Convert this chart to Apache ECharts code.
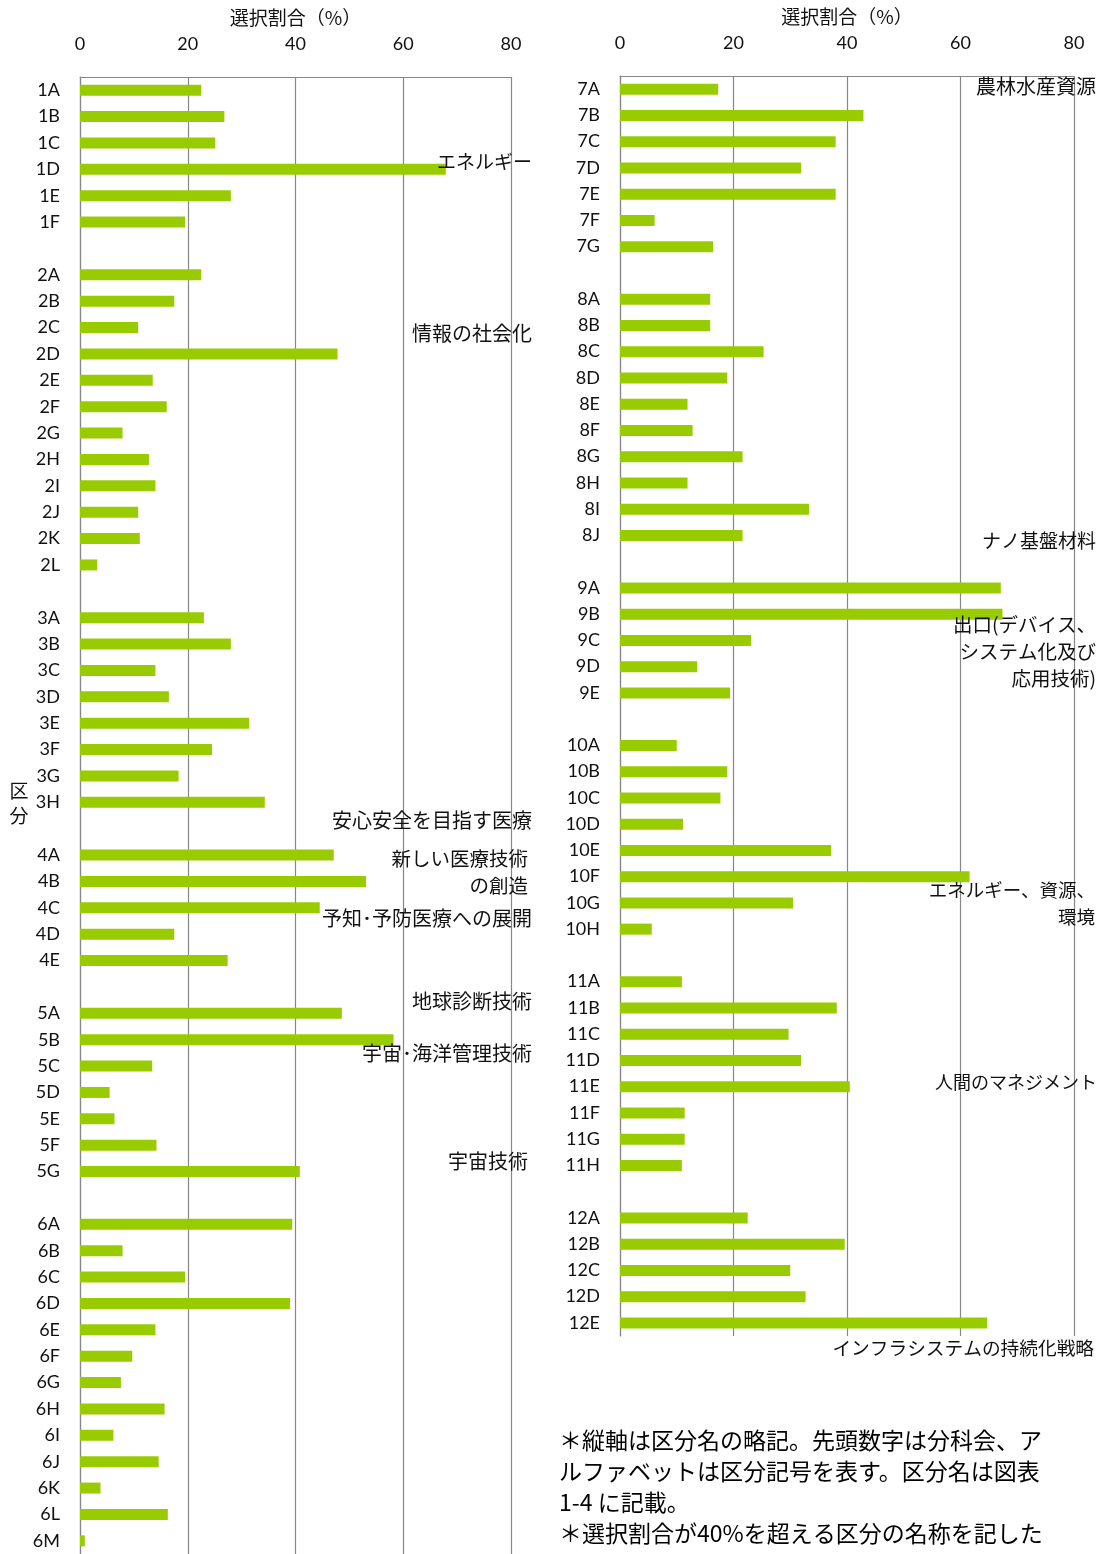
<!DOCTYPE html>
<html>
<head>
<meta charset="utf-8">
<script src="https://cdn.jsdelivr.net/npm/echarts@6/dist/echarts.min.js"></script>
<style>
  html, body { margin: 0; padding: 0; background: #fff; }
  #chart { width: 1105px; height: 1554px; }
</style>
</head>
<body>
<div id="chart"></div>
<script>
// 区分コードと選択割合（%）— 分科会ごと
const field1 = ['1A', '1B', '1C', '1D', '1E', '1F'];
const rate1 = [22.5, 26.8, 25.1, 67.9, 28.0, 19.5];
const field2 = ['2A', '2B', '2C', '2D', '2E', '2F', '2G', '2H', '2I', '2J', '2K', '2L'];
const rate2 = [22.5, 17.5, 10.8, 47.8, 13.5, 16.1, 7.9, 12.8, 14.0, 10.8, 11.1, 3.2];
const field3 = ['3A', '3B', '3C', '3D', '3E', '3F', '3G', '3H'];
const rate3 = [23.0, 28.0, 14.0, 16.5, 31.4, 24.5, 18.3, 34.3];
const field4 = ['4A', '4B', '4C', '4D', '4E'];
const rate4 = [47.1, 53.1, 44.5, 17.5, 27.4];
const field5 = ['5A', '5B', '5C', '5D', '5E', '5F', '5G'];
const rate5 = [48.6, 58.2, 13.4, 5.5, 6.4, 14.2, 40.8];
const field6 = ['6A', '6B', '6C', '6D', '6E', '6F', '6G', '6H', '6I', '6J', '6K', '6L', '6M'];
const rate6 = [39.4, 7.9, 19.5, 39.0, 14.0, 9.7, 7.6, 15.7, 6.2, 14.6, 3.8, 16.3, 0.9];
const field7 = ['7A', '7B', '7C', '7D', '7E', '7F', '7G'];
const rate7 = [17.3, 42.9, 38.0, 31.9, 38.0, 6.1, 16.4];
const field8 = ['8A', '8B', '8C', '8D', '8E', '8F', '8G', '8H', '8I', '8J'];
const rate8 = [15.9, 15.9, 25.3, 18.9, 11.9, 12.8, 21.6, 11.9, 33.3, 21.6];
const field9 = ['9A', '9B', '9C', '9D', '9E'];
const rate9 = [67.1, 67.4, 23.1, 13.6, 19.4];
const field10 = ['10A', '10B', '10C', '10D', '10E', '10F', '10G', '10H'];
const rate10 = [10.0, 18.9, 17.7, 11.1, 37.2, 61.6, 30.5, 5.6];
const field11 = ['11A', '11B', '11C', '11D', '11E', '11F', '11G', '11H'];
const rate11 = [10.9, 38.2, 29.7, 31.9, 40.5, 11.4, 11.4, 10.9];
const field12 = ['12A', '12B', '12C', '12D', '12E'];
const rate12 = [22.5, 39.6, 30.0, 32.7, 64.7];

// 値軸の目盛
const rateTicks = [0, 20, 40, 60, 80];

// 40%を超える区分の名称
const leftNotes = ['エネルギー', '情報の社会化', '安心安全を目指す医療', '新しい医療技術\nの創造',
  '予知･予防医療への展開', '地球診断技術', '宇宙･海洋管理技術', '宇宙技術'];
const rightNotes = ['農林水産資源', 'ナノ基盤材料', '出口(デバイス、\nシステム化及び\n応用技術)',
  'エネルギー、資源、\n環境', '人間のマネジメント', 'インフラシステムの持続化戦略'];

const footNote = '＊縦軸は区分名の略記。先頭数字は分科会、ア\nルファベットは区分記号を表す。区分名は図表\n1-4 に記載。\n＊選択割合が40%を超える区分の名称を記した';

// ---- layout: [右端x, 中心y, 文字サイズ] ----
const leftNoteLayout = [[532, 162, 19], [532, 333, 20], [532, 820, 20], [528, 872, 19.5], [532, 918, 20],
  [532, 1001, 20], [532, 1053, 20], [528, 1161, 20]];
const rightNoteLayout = [[1096, 86, 20], [1096, 541, 19], [1096, 652, 19.5], [1095, 903, 18.5],
  [1097, 1082, 18], [1094, 1348, 18.7]];

// 分科会の間に空行を挟んでカテゴリ列を作る
function joinGroups(fields, rates) {
  const cats = [], vals = [];
  fields.forEach((f, i) => {
    if (i > 0) { cats.push(''); vals.push(null); }
    f.forEach((c, j) => { cats.push(c); vals.push(rates[i][j]); });
  });
  return { cats, vals };
}
const left = joinGroups([field1, field2, field3, field4, field5, field6], [rate1, rate2, rate3, rate4, rate5, rate6]);
const right = joinGroups([field7, field8, field9, field10, field11, field12], [rate7, rate8, rate9, rate10, rate11, rate12]);

const NUM_FONT = 'Lato, "Noto Sans CJK JP", sans-serif';
const JP_FONT = '"Noto Sans CJK JP", sans-serif';
const GRID_COLOR = '#878787';
const BAR_COLOR = '#99cc00';

function valueAxis(gridIndex) {
  return {
    type: 'value', gridIndex, position: 'top',
    min: rateTicks[0], max: rateTicks[rateTicks.length - 1], interval: rateTicks[1] - rateTicks[0],
    name: '選択割合（%）', nameLocation: 'middle', nameGap: 50,
    nameTextStyle: { fontFamily: JP_FONT, fontSize: 19, color: '#111' },
    axisLine: { show: true, lineStyle: { color: GRID_COLOR, width: 1 } },
    axisTick: { show: false },
    axisLabel: { margin: 24, fontFamily: NUM_FONT, fontSize: 18, color: '#111' },
    splitLine: { show: true, lineStyle: { color: GRID_COLOR, width: 1.2 } }
  };
}
function categoryAxis(gridIndex, cats) {
  return {
    type: 'category', gridIndex, inverse: true, data: cats,
    axisLine: { show: true, lineStyle: { color: GRID_COLOR, width: 1.2 } },
    axisTick: { show: false },
    axisLabel: { margin: 20, interval: 0, fontFamily: NUM_FONT, fontSize: 18, color: '#111' },
    splitLine: { show: false }
  };
}
function barSeries(idx, vals) {
  return {
    type: 'bar', xAxisIndex: idx, yAxisIndex: idx, data: vals,
    barWidth: 11, itemStyle: { color: BAR_COLOR }, silent: true, animation: false
  };
}
function noteText(text, lay) {
  return {
    type: 'text', x: lay[0], y: lay[1], z: 100,
    style: {
      text, align: 'right', verticalAlign: 'middle',
      font: lay[2] + 'px "Noto Sans CJK JP", sans-serif', fill: '#111', lineHeight: 27
    }
  };
}

const graphics = [];
leftNotes.forEach((t, i) => graphics.push(noteText(t, leftNoteLayout[i])));
rightNotes.forEach((t, i) => graphics.push(noteText(t, rightNoteLayout[i])));
graphics.push({
  type: 'text', x: 19, y: 803, z: 100,
  style: { text: '区\n分', align: 'center', verticalAlign: 'middle',
    font: '19px "Noto Sans CJK JP", sans-serif', fill: '#111', lineHeight: 25 }
});
graphics.push({
  type: 'text', x: 559, y: 1425, z: 100,
  style: { text: footNote, align: 'left', verticalAlign: 'top',
    font: '23px "Noto Sans CJK JP", sans-serif', fill: '#000', lineHeight: 31 }
});

const chart = echarts.init(document.getElementById('chart'), null, { renderer: 'canvas' });
chart.setOption({
  animation: false,
  backgroundColor: '#fff',
  grid: [
    { left: 80, top: 77, width: 431, height: 1478 },
    { left: 620, top: 76, width: 454, height: 1260 }
  ],
  xAxis: [valueAxis(0), valueAxis(1)],
  yAxis: [categoryAxis(0, left.cats), categoryAxis(1, right.cats)],
  series: [barSeries(0, left.vals), barSeries(1, right.vals)],
  graphic: graphics
});
</script>
</body>
</html>
